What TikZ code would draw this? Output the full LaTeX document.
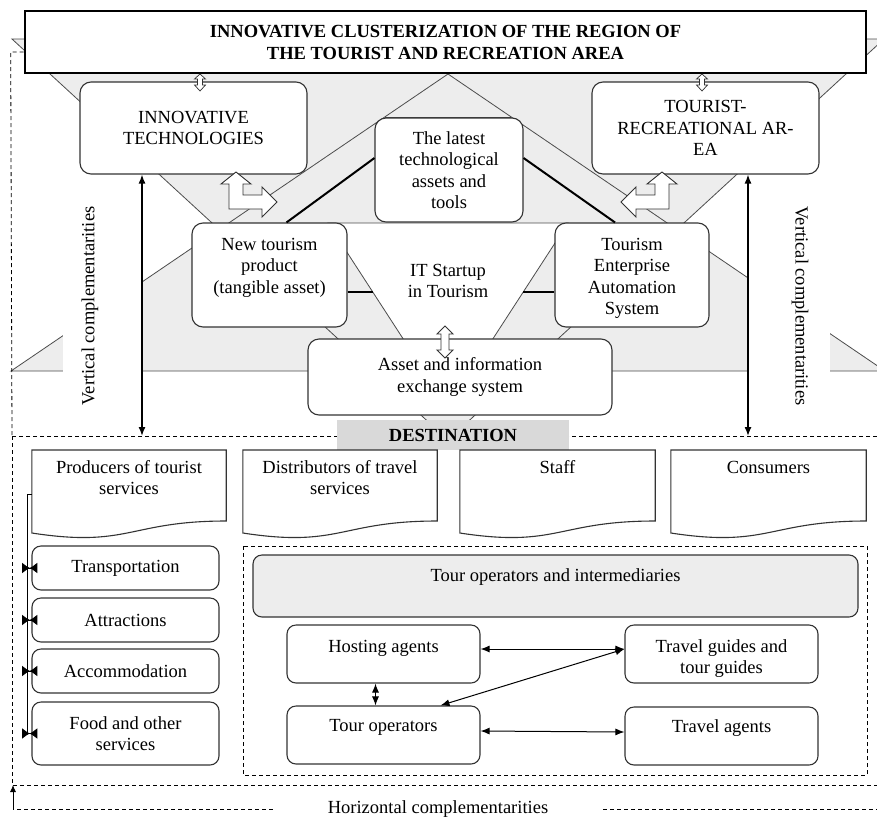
\documentclass[tikz,border=0pt]{standalone}
\usepackage{fontspec}
\setmainfont{Liberation Serif}
\usetikzlibrary{calc, positioning, arrows.meta}

\newcommand{\docshape}[1]{%
  \draw[docline] (#1.north west) -- (#1.north east) -- ([yshift=-71pt]#1.north east)
    .. controls ([yshift=-71pt]#1.north) and ([yshift=-98pt]#1.north) .. ([yshift=-83pt]#1.north west) -- cycle;}

\begin{document}
\begin{tikzpicture}[
    x=1pt, y=-1pt,
    every node/.style={font=\fontsize{18.5}{21.5}\selectfont, align=center, inner sep=0pt},
    box/.style={draw=black!80, line width=1.1pt, rounded corners=11pt, fill=white},
    smallbox/.style={draw=black!80, line width=1.1pt, rounded corners=9pt, fill=white},
    toptext/.style 2 args={text height=#1, text depth=#2},
    greyfill/.style={fill=black!7},
    edge/.style={draw=black!70, line width=0.8pt},
    heavy/.style={line width=2pt, black},
    vertarrow/.style={{Latex[length=9pt,width=7pt]}-{Latex[length=9pt,width=7pt]}, line width=1.4pt},
    link/.style={{Latex[length=9pt,width=7pt]}-{Latex[length=9pt,width=7pt]}, line width=1pt},
    tie/.style={{Latex[reversed,length=8pt,width=11pt]}-{Latex[reversed,length=8pt,width=11pt]}, line width=1pt, shorten <=-5pt, shorten >=-6pt},
    dashline/.style={dash pattern=on 4pt off 3pt, line width=0.8pt},
    blockarrow/.style={draw=black!80, line width=0.9pt, fill=white},
    doctext/.style={minimum width=194pt, text height=23pt, anchor=north},
    docline/.style={draw=black!80, line width=1.1pt}
]
\useasboundingbox (0,0) rectangle (877,819);
\clip (0,0) rectangle (877,819);

% background triangles
\fill[greyfill] (12,39) -- (884,39) -- (448,440) -- cycle;
\fill[greyfill] (448,74) -- (11,371) -- (885,371) -- cycle;
\draw[edge] (12,39) -- (884,39) -- (448,440) -- cycle;
\draw[edge] (448,74) -- (11,371) -- (885,371) -- cycle;
\draw[edge] (385,117) -- (511,117);
\filldraw[edge, fill=white] (328,223) -- (568,223) -- (448,408) -- cycle;
\fill[white] (63,195) rectangle (141.3,425);
\fill[white] (748.7,195) rectangle (830,425);

\node[rotate=90] (vcl) at (90,306) {Vertical complementarities};
\node[rotate=-90] (vcr) at (800,306) {Vertical complementarities};

% upper part
\node[draw=black, line width=2.6pt, fill=white, minimum width=841pt, minimum height=62pt,
      font=\bfseries\fontsize{18.5}{22}\selectfont] (title) at (445.5,42)
      {INNOVATIVE CLUSTERIZATION OF THE REGION OF\\THE TOURIST AND RECREATION AREA};
\node[box, minimum width=227pt, minimum height=92pt] (innov) at (193.5,128) {INNOVATIVE\\TECHNOLOGIES};
\node[box, minimum width=227pt, minimum height=92pt] (tourist) at (705.5,128) {TOURIST-\\RECREATIONAL AR-\\EA};
\node[box, minimum width=148pt, minimum height=104pt] (latest) at (449,170) {The latest\\technological\\assets and\\tools};
\node[box, minimum width=155pt, toptext={70pt}{34pt}] (newprod) at (269.5,275) {New tourism\\product\\(tangible asset)};
\node[box, minimum width=154pt, toptext={91.5pt}{12.5pt}] (tourent) at (632,275) {Tourism\\Enterprise\\Automation\\System};
\node (startup) at (448,281) {IT Startup\\in Tourism};
\node[box, minimum width=304pt, minimum height=76pt] (asset) at (460,377) {Asset and information\\exchange system};

\coordinate (itl) at (373,292);
\coordinate (itr) at (523,292);
\draw[heavy] ([yshift=12pt]latest.west) -- ([xshift=17pt]newprod.north);
\draw[heavy] ([yshift=12pt]latest.east) -- ([xshift=-17pt]tourent.north);
\draw[heavy] (newprod.east |- itl) -- (itl);
\draw[heavy] (itr) -- (tourent.west |- itr);

% block arrows
\foreach \ax in {200,702}
  \draw[blockarrow, line width=0.7pt] (\ax,74) -- ++(5.5,5) -- ++(-3,0) -- ++(0,6) -- ++(3,0) -- ++(-5.5,6)
    -- ++(-5.5,-6) -- ++(3,0) -- ++(0,-6) -- ++(-3,0) -- cycle;
\draw[blockarrow] (236,172) -- (251,184) -- (243,184) -- (243,195) -- (262,195) -- (262,187) -- (277,202)
  -- (262,217) -- (262,209) -- (229,209) -- (229,184) -- (221,184) -- cycle;
\draw[blockarrow] (662,172) -- (647,184) -- (655,184) -- (655,195) -- (636,195) -- (636,187) -- (621,202)
  -- (636,217) -- (636,209) -- (669,209) -- (669,184) -- (677,184) -- cycle;
\draw[blockarrow] (445,326) -- (453,334) -- (449,334) -- (449,350) -- (453,350) -- (445,358)
  -- (437,350) -- (441,350) -- (441,334) -- (437,334) -- cycle;

% destination
\coordinate (dnw) at (12,436);
\coordinate (dse) at (890,785);
\draw[dashline] (dnw) rectangle (dse);
\draw[dashline] ([yshift=-10pt]title.west) -- ++(-13,0) -- (dnw);
\node[fill=black!15, minimum width=232pt, minimum height=30pt,
      font=\bfseries\fontsize{18.5}{21.5}\selectfont] (dest) at (453,435) {DESTINATION};

\coordinate (vl) at (142,436);
\coordinate (vr) at (748,436);
\draw[vertarrow] (vl |- innov.south) -- (vl);
\draw[vertarrow] (vr |- tourist.south) -- (vr);

\node[doctext, text height=44.5pt] (prod) at (129,450) {Producers of tourist\\services};
\node[doctext, text height=44.5pt] (dist) at (340,450) {Distributors of travel\\services};
\node[doctext, minimum width=195pt] (staff) at (557.5,450) {Staff};
\node[doctext, minimum width=195pt] (cons) at (768.5,450) {Consumers};
\docshape{prod}
\docshape{dist}
\docshape{staff}
\docshape{cons}

\node[smallbox, minimum width=187pt, minimum height=44pt] (trans) at (125.5,568) {Transportation};
\node[smallbox, minimum width=187pt, minimum height=44pt] (attr) at (125.5,620) {Attractions};
\node[smallbox, minimum width=187pt, minimum height=44pt] (accom) at (125.5,671) {Accommodation};
\node[smallbox, minimum width=187pt, minimum height=63pt] (food) at (125.5,733.5) {Food and other\\services};

\coordinate (spine) at (27,494);
\draw[line width=1pt] (spine -| prod.west) -- (spine) -- (spine |- food.west);
\foreach \n in {trans, attr, accom, food}
  \draw[tie] (spine |- \n.west) -- (\n.west);

\draw[dashline] (243,546) rectangle (867,775);
\node[smallbox, fill=black!7, minimum width=605pt, toptext={26pt}{36pt}] (intermed) at (555.5,586) {Tour operators and intermediaries};
\node[smallbox, minimum width=193pt, toptext={27pt}{31pt}] (hosting) at (383.5,654) {Hosting agents};
\node[smallbox, minimum width=193pt, toptext={25pt}{33pt}] (tourops) at (383.5,735) {Tour operators};
\node[smallbox, minimum width=193pt, toptext={48.5pt}{9.5pt}] (guides) at (721.5,654) {Travel guides and\\tour guides};
\node[smallbox, minimum width=193pt, toptext={25pt}{33pt}] (agents) at (721.5,736) {Travel agents};

\draw[link] ([yshift=5pt]hosting.east) -- ([yshift=5pt]guides.west);
\draw[link] ([yshift=4pt]tourops.east) -- ([yshift=4pt]agents.west);
\draw[link] ([yshift=5pt]guides.west) -- ([xshift=57pt]tourops.north);
\draw[link] ([xshift=-8pt]hosting.south) -- ([xshift=-8pt]tourops.north);

% horizontal complementarities
\node (hc) at (438,809) {Horizontal complementarities};
\coordinate (hcl) at (13,809);
\draw[dashline] ([xshift=-55pt]hc.west) -- (hcl);
\draw[-{Latex[length=7pt,width=6pt]}, line width=0.9pt] (hcl) -- (hcl |- dse);
\draw[dashline] ([xshift=55pt]hc.east) -- (hc.east -| dse);

\end{tikzpicture}
\end{document}
